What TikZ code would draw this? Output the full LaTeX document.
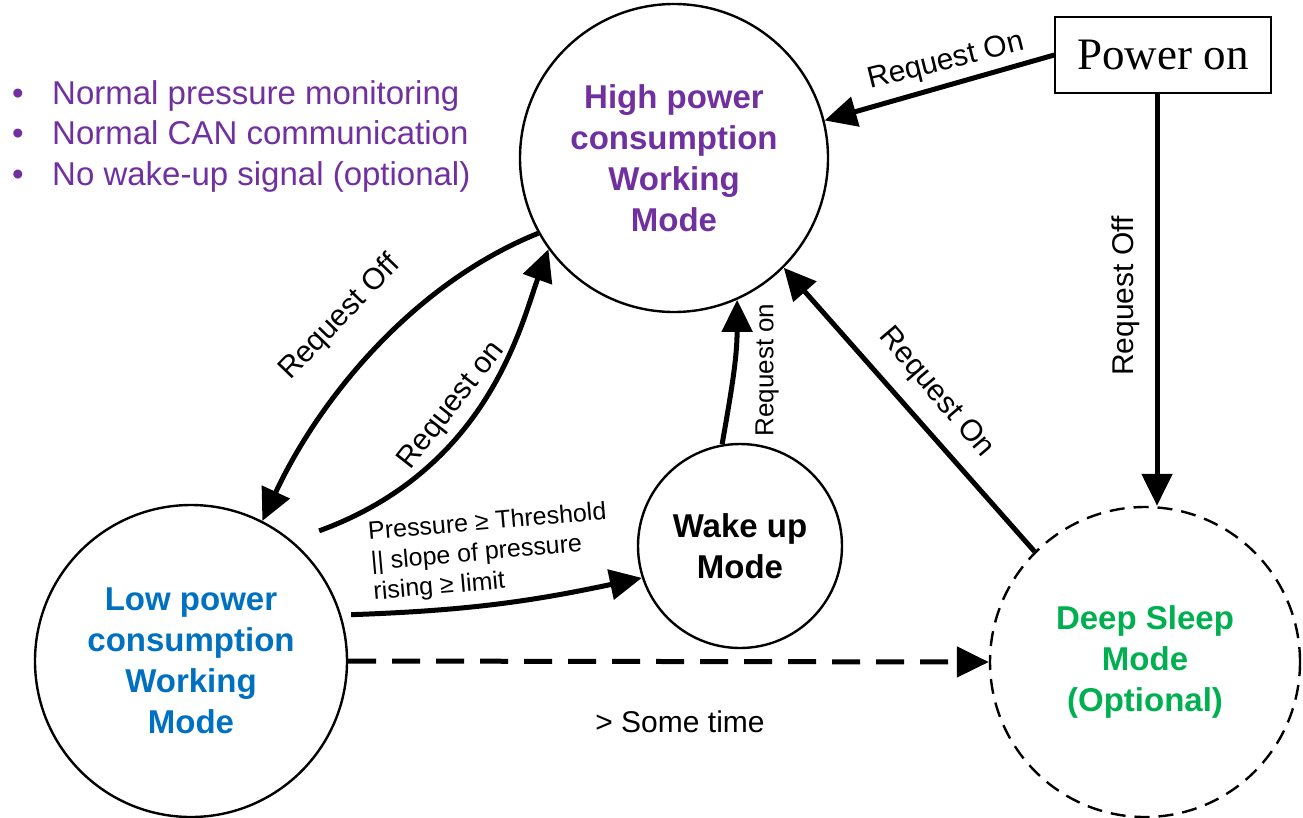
\documentclass[tikz,border=0pt]{standalone}
\usepackage{fontspec}
\setmainfont{Liberation Sans}
\newfontfamily\timesfont{Liberation Serif}
\usetikzlibrary{arrows.meta}

\definecolor{hpurple}{HTML}{7030A0}
\definecolor{lblue}{HTML}{0070C0}
\definecolor{dgreen}{HTML}{00B050}

\begin{document}
\begin{tikzpicture}[x=1pt,y=1pt,
  state/.style={circle, draw, line width=2.4pt, inner sep=0pt, align=center,
                font=\fontsize{33}{41}\selectfont\bfseries},
  arr/.style={line width=5pt, -{Triangle[length=32pt,width=30pt]}},
  lbl/.style={font=\fontsize{30}{34}\selectfont, inner sep=0pt},
]
\path[use as bounding box] (0,0) rectangle (1303,-817);

% states
\node[state, minimum size=308pt, text=hpurple] (high) at (674,-158)
  {High power\\consumption\\Working\\Mode};
\node[state, minimum size=312pt, text=lblue] (low) at (191,-661)
  {Low power\\consumption\\Working\\Mode};
\node[state, minimum size=310pt, dash pattern=on 15pt off 9pt, text=dgreen] (deep) at (1145,-662)
  {Deep Sleep\\Mode\\(Optional)};
\node[state, minimum size=204pt] (wake) at (740,-546) {Wake up\\Mode};
\node[draw, line width=1.5pt, minimum width=216pt, minimum height=76pt, inner sep=0pt,
      font=\timesfont\fontsize{45}{50}\selectfont] (pon) at (1163,-55) {Power on};

% notes on the high power mode
\node[anchor=west, text=hpurple, inner sep=0pt, align=left,
      font=\fontsize{33}{40.5}\selectfont] (notes) at (12,-136)
  {\makebox[40pt][l]{•}Normal pressure monitoring\\
   \makebox[40pt][l]{•}Normal CAN communication\\
   \makebox[40pt][l]{•}No wake-up signal (optional)};

% transitions
\draw[arr] (pon.west) -- (high.14);
\coordinate (offtop) at ([xshift=-6pt]pon.south);
\draw[arr] (offtop) -- (offtop |- deep.north);
\draw[arr] (deep.135) -- (high.-45);
\draw[arr] (high.209) .. controls +(202:135) and +(65:135) .. (low.63);
\coordinate (lowon) at ([shift={(17,19)}]low.45);
\draw[arr] (lowon) .. controls +(20:180) and +(250:80) .. (high.216);
\coordinate (lowpr) at ([shift={(9,3)}]low.16);
\draw[arr] (lowpr) to[out=2, in=192] (wake.198);
\draw[arr] (wake.100) to[out=80, in=-90] (high.-66);
\draw[arr, dash pattern=on 28pt off 16pt] (low.east) -- (deep.west);

% labels
\node[lbl, rotate=14] (l1) at (946,-62) {Request On};
\node[lbl, rotate=90] (l2) at (1126,-296) {Request Off};
\node[lbl, rotate=-49.6] (l3) at (936,-393) {Request On};
\node[lbl, rotate=46] (l4) at (340,-318) {Request Off};
\node[lbl, rotate=52] (l5) at (452,-406) {Request on};
\node[lbl, rotate=90, font=\fontsize{26}{30}\selectfont] (l6) at (767,-370) {Request on};
\node[lbl] (l7) at (680,-722) {> Some time};
\node[inner sep=0pt, rotate=5, align=left, font=\fontsize{25}{30}\selectfont] (l8) at (490,-553)
  {Pressure ≥ Threshold\\|| slope of pressure\\rising ≥ limit};
\end{tikzpicture}
\end{document}
